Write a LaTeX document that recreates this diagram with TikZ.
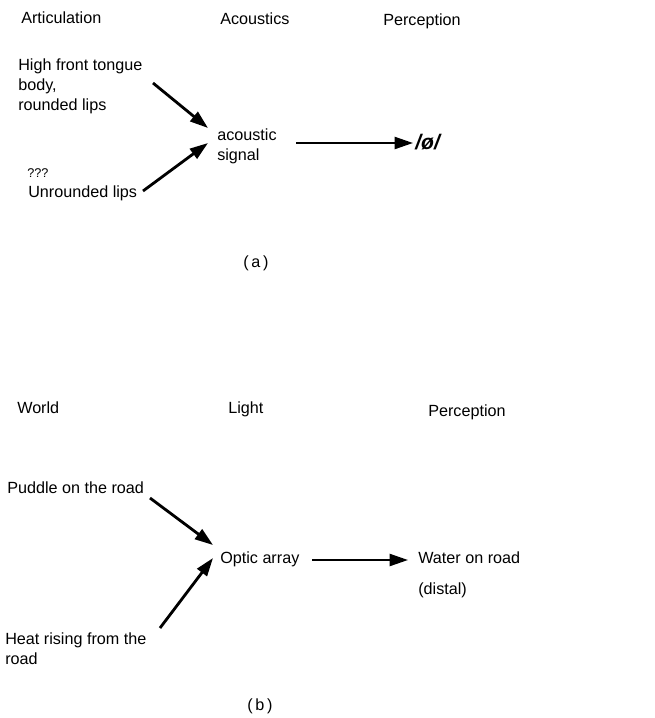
\documentclass[tikz,border=0pt]{standalone}
\usepackage{fontspec}
\setmainfont{Liberation Sans}
\usetikzlibrary{arrows.meta}
\newcommand{\lbfont}{\fontsize{11.5}{13.5}\selectfont}

\begin{document}
\begin{tikzpicture}[x=0.025cm,y=-0.025cm,>={Triangle[length=13pt,width=8.5pt]},
  lbl/.style={inner sep=0pt,anchor=base west,font=\lbfont},
  blk/.style={inner sep=0pt,anchor=north west,align=left,font=\lbfont},
  arr/.style={->,line width=2pt},
  flow/.style={->,line width=1.6pt}]
  \useasboundingbox (0,0) rectangle (655,718);
  % (a) column heads
  \node[lbl] (artic) at (21,23) {Articulation};
  \node[lbl] (acou) at (220,24) {Acoustics};
  \node[lbl] (percA) at (383,25) {Perception};
  % (a) articulations, signal, percept
  \node[blk] (art1) at (18,58) {High front tongue\\[1pt]body,\\[1pt]rounded lips};
  \node[lbl,font=\fontsize{9}{10}\selectfont] (qq) at (27,177) {???};
  \node[lbl] (unr) at (28,197) {Unrounded lips};
  \node[blk] (sig) at (217,128) {acoustic\\[1pt]signal};
  \node[lbl,font=\fontsize{15}{17}\selectfont\bfseries\itshape] (phon) at (415,149) {/ø/};
  \node[anchor=base,inner sep=0pt,font=\lbfont] (capA) at (256,267) {(\,a\,)};
  \draw[arr] ([shift={(135,25)}]art1.north west) -- ([shift={(-9,0)}]sig.north west);
  \draw[arr] ([shift={(115,-6)}]unr.base west) -- ([shift={(-9,15)}]sig.north west);
  \draw[flow] ([shift={(79,15)}]sig.north west) -- ([shift={(-2,-6)}]phon.base west);
  % (b) column heads
  \node[lbl] (world) at (17,413) {World};
  \node[lbl] (light) at (228,413) {Light};
  \node[lbl] (percB) at (428,416) {Perception};
  % (b) causes, optic array, percept
  \node[lbl] (pud) at (7,493) {Puddle on the road};
  \node[blk] (heat) at (5,632) {Heat rising from the\\[1pt]road};
  \node[lbl] (opt) at (220,563) {Optic array};
  \node[lbl] (water) at (418,563) {Water on road};
  \node[lbl] (distal) at (418,594) {(distal)};
  \node[anchor=base,inner sep=0pt,font=\lbfont] (capB) at (260,710) {(\,b\,)};
  \draw[arr] ([shift={(143,5)}]pud.base west) -- ([shift={(-7,-18)}]opt.base west);
  \draw[arr] ([shift={(155,-4)}]heat.north west) -- ([shift={(-7,-5)}]opt.base west);
  \draw[flow] ([shift={(92,-3)}]opt.base west) -- ([shift={(-10,-3)}]water.base west);
\end{tikzpicture}
\end{document}
